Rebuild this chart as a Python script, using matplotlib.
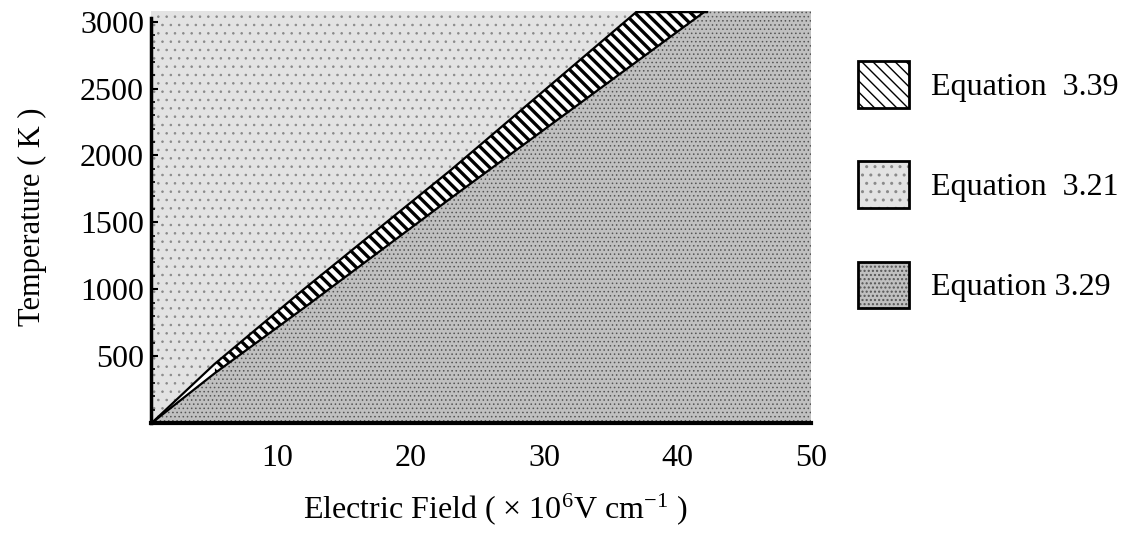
import numpy as np
import matplotlib
matplotlib.use("Agg")
from matplotlib import pyplot as plt
from matplotlib.patches import Patch

plt.rcParams["font.family"] = ["Liberation Serif", "DejaVu Serif"]
plt.rcParams["mathtext.fontset"] = "custom"
plt.rcParams["mathtext.rm"] = "Liberation Serif"
plt.rcParams["mathtext.it"] = "Liberation Serif:italic"

# boundaries of the Equation 3.39 band
upper_E = [0.6, 5.3, 12.0, 23.0, 37.0]
upper_T = [0, 440, 1000, 1890, 3080]
lower_E = [0.6, 5.3, 12.0, 23.0, 42.1]
lower_T = [0, 370, 860, 1680, 3080]
hatch_start = 5.3  # band is hatched only above this field

E_min, E_max = 0.55, 50.0
T_max = 3080

x_ticks = [10, 20, 30, 40, 50]
y_ticks = [500, 1000, 1500, 2000, 2500, 3000]
labels = ["Equation  3.39", "Equation  3.21", "Equation 3.29"]

fs = 23

fig = plt.figure(figsize=(11.32, 5.33), dpi=100)
ax = fig.add_axes([151 / 1132, 110 / 533, 660 / 1132, 412 / 533])

E = np.linspace(E_min, E_max, 600)
up = np.interp(E, upper_E, upper_T, left=0, right=np.nan)
lo = np.interp(E, lower_E, lower_T, left=0, right=np.nan)
up = np.where(E > upper_E[-1], T_max, up)
lo = np.where(E > lower_E[-1], T_max, lo)

light_face = "#e3e3e3"
light_dot = "#8a8a8a"
dense_face = "#c0c0c0"
dense_dot = "#555555"

# Equation 3.21 : above the band
with plt.rc_context({"hatch.linewidth": 0.6}):
    ax.fill_between(E, up, T_max, facecolor=light_face, edgecolor=light_dot,
                    hatch="..", linewidth=0)
    # Equation 3.29 : below the band
    ax.fill_between(E, 0, lo, facecolor=dense_face, edgecolor=dense_dot,
                    hatch="....", linewidth=0)

# Equation 3.39 : the band itself
band = E >= hatch_start
with plt.rc_context({"hatch.linewidth": 2.4}):
    ax.fill_between(E[band], lo[band], up[band], facecolor="white",
                    edgecolor="black", hatch="\\\\\\", linewidth=0)
ax.fill_between(E[~band], lo[~band], up[~band], facecolor="white", linewidth=0)
ax.plot(upper_E, upper_T, color="black", lw=1.6)
ax.plot(lower_E, lower_T, color="black", lw=1.6)
ax.plot([upper_E[-1], lower_E[-1]], [T_max, T_max], color="black", lw=2.5)

ax.set_xlim(E_min, E_max)
ax.set_ylim(0, T_max)
ax.set_xticks(x_ticks)
ax.set_yticks(y_ticks)
ax.set_yticks(np.arange(100, 3001, 100), minor=True)
ax.tick_params(axis="x", length=0, labelsize=fs, pad=15)
ax.tick_params(axis="y", which="major", direction="in", length=5, width=1.5, labelsize=fs, pad=5)
ax.tick_params(axis="y", which="minor", direction="in", length=3, width=1.2)
for s in ["top", "right"]:
    ax.spines[s].set_visible(False)
ax.spines["left"].set_linewidth(2.5)
ax.spines["left"].set_bounds(0, 3030)
ax.spines["bottom"].set_linewidth(3)

ax.set_ylabel("Temperature ( K )", fontsize=22, labelpad=24)
ax.set_xlabel("Electric Field ( × 10$^{6}$V cm$^{-1}$ )", fontsize=fs)
ax.xaxis.set_label_coords(0.522, -0.165)

with plt.rc_context({"hatch.linewidth": 2.0}):
    h1 = Patch(facecolor="white", edgecolor="black", hatch="\\\\\\", linewidth=0)
with plt.rc_context({"hatch.linewidth": 0.6}):
    h2 = Patch(facecolor=light_face, edgecolor=light_dot, hatch="..", linewidth=0)
    h3 = Patch(facecolor=dense_face, edgecolor=dense_dot, hatch="....", linewidth=0)
frame = Patch(facecolor="none", edgecolor="black", linewidth=2)
fig.legend([(h1, frame), (h2, frame), (h3, frame)], labels,
           loc="upper left", bbox_to_anchor=(858 / 1132, 1 - 61 / 533),
           frameon=False, fontsize=fs, handlelength=1.6, handleheight=1.87,
           handletextpad=0.7, labelspacing=1.68, borderpad=0, borderaxespad=0)

fig.savefig("out.png", dpi=100)
